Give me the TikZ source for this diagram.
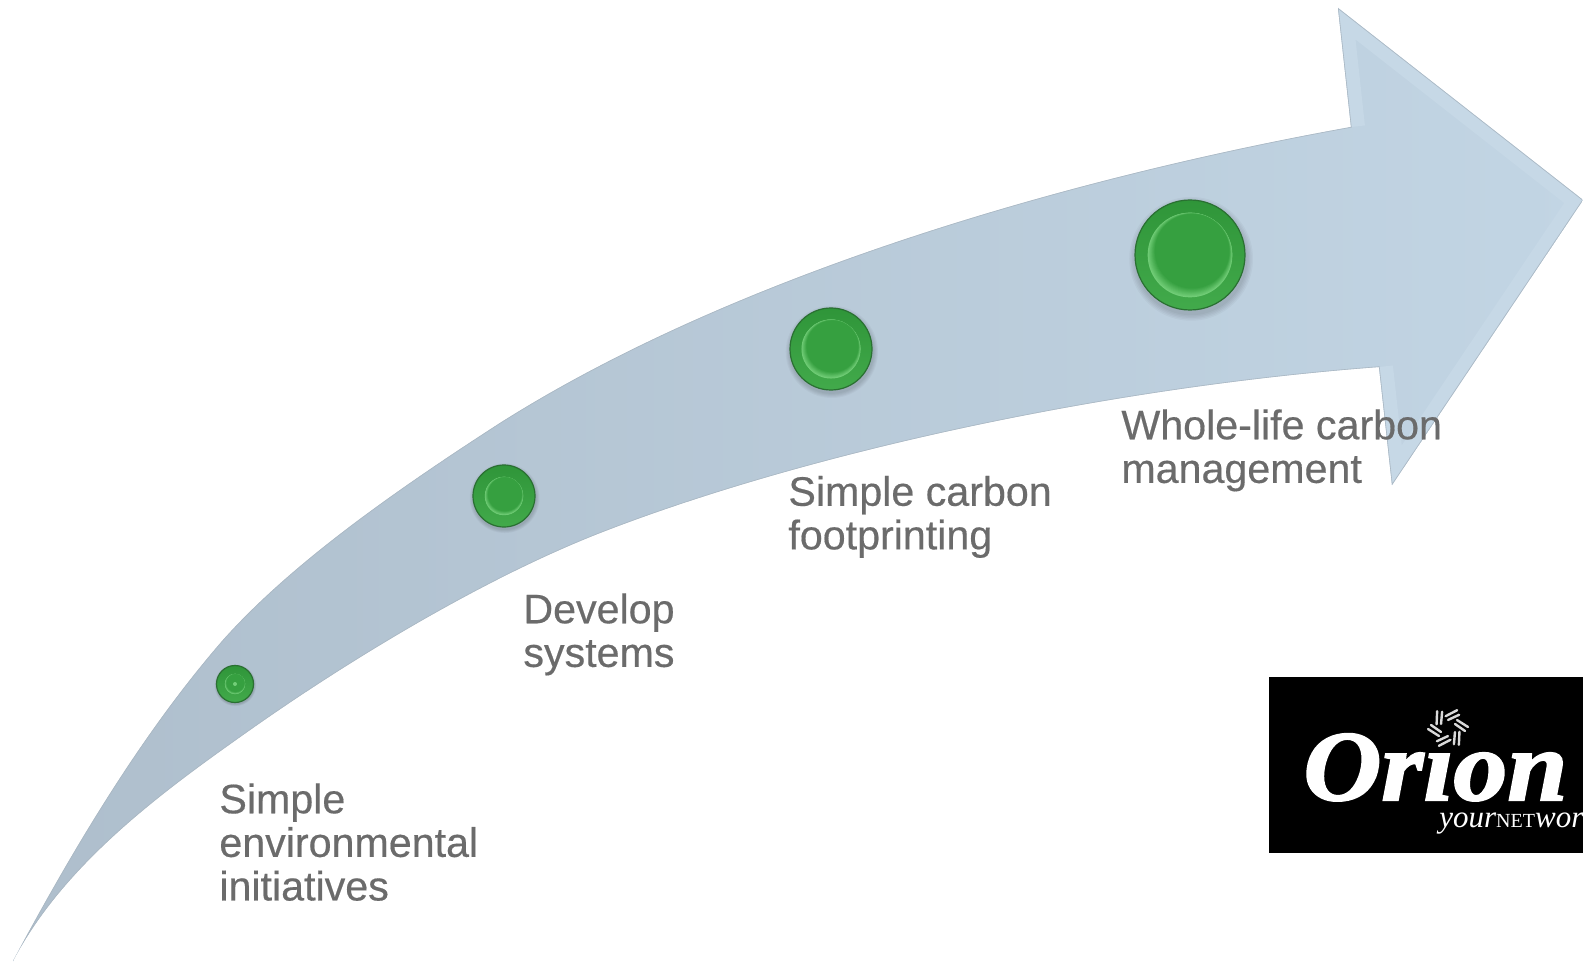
\documentclass[tikz,border=0pt]{standalone}
\usepackage{fontspec}
\setmainfont{Liberation Sans}
\newfontfamily\labelfont[FakeBold=0.4]{Liberation Sans}
\newfontfamily\logoserif{Liberation Serif}
\newfontfamily\orionfont[BoldItalicFeatures={FakeBold=2,FakeStretch=1.08}]{Liberation Serif}
\usetikzlibrary{shadings}
\definecolor{arrowtail}{HTML}{AEBECC}
\definecolor{arrowmid}{HTML}{BCCEDE}
\definecolor{arrowhead}{HTML}{C2D5E4}
\definecolor{arrowbevel}{HTML}{C6D8E6}
\definecolor{arrowline}{HTML}{ABB8C3}
\definecolor{labelgrey}{HTML}{6B6B6B}
\definecolor{dotedge}{HTML}{2A7032}
\definecolor{dottop}{HTML}{2F9539}
\definecolor{dotbottom}{HTML}{42AA4B}
\definecolor{dotbody}{HTML}{36A040}
\definecolor{dotlight}{HTML}{72CE78}
\tikzset{
  x=0.5pt,y=-0.5pt,
  steplabel/.style={font=\labelfont\fontsize{20.6pt}{21.8pt}\selectfont,text=labelgrey,align=left,anchor=north west,inner sep=0pt},
  logotext/.style={text=white,inner sep=0pt},
  petal/.style={draw=white!85!black,line width=1.2pt,line cap=round},
}
\newcommand{\arrowshape}{(13,961)
  .. controls (83,830) and (150,724) .. (223,640)
  .. controls (290,565) and (390,494) .. (500,423)
  .. controls (750,265) and (1100,172) .. (1351,127)
  -- (1338,8) -- (1583,200) -- (1392,485) -- (1379,367)
  .. controls (1100,388) and (800,455) .. (600,533)
  .. controls (480,580) and (345,663) .. (250,730)
  .. controls (165,790) and (65,862) .. (13,961) -- cycle}
\newcommand{\dotmark}[5]{%
  \foreach \k in {1,...,5}{\fill[black,opacity=0.03] (#2+#4*0.02,#3+#4*0.07) circle[radius=#4*(1+\k*0.025)];}
  \node[circle,draw=dotedge,line width=0.6pt,top color=dottop,bottom color=dotbottom,minimum size=#4pt,inner sep=0pt] (#1) at (#2,#3) {};
  \foreach \j in {0,...,10}{
    \pgfmathsetmacro{\mixv}{\j*10}
    \fill[dotbody!\mixv!dotlight] (#2+#4*#5*\j*0.005,#3-#4*#5*\j*0.009) circle[radius=#4*#5*(1-\j*0.012)];
  }
}
\begin{document}
\begin{tikzpicture}
\useasboundingbox (0,0) rectangle (1583,962);
\fill[white] (0,0) rectangle (1583,962);
\begin{scope}
  \clip \arrowshape;
  \shade[left color=arrowtail,middle color=arrowmid,right color=arrowhead] (0,0) rectangle (1583,962);
  \draw[arrowbevel,line width=14pt,line join=miter] (1351,127) -- (1338,8) -- (1583,200) -- (1392,485) -- (1379,367);
  \draw[arrowline,line width=0.6pt] \arrowshape;
\end{scope}
\dotmark{d1}{235}{684}{18.5}{0.55}
\fill[dotlight] (235,684) circle[radius=2];
\dotmark{d2}{504}{496}{31}{0.62}
\dotmark{d3}{831}{349}{41}{0.72}
\dotmark{d4}{1190}{255}{55}{0.77}
\node[steplabel] (a) at (219,783) {Simple\\environmental\\initiatives};
\node[steplabel] (b) at (523,593) {Develop\\systems};
\node[steplabel] (c) at (788,475.5) {Simple carbon\\footprinting};
\node[steplabel] (d) at (1121,409) {Whole-life carbon\\management};
\begin{scope}
  \clip (1269,677) rectangle (1583,853);
  \fill[black] (1269,677) rectangle (1583,853);
  \node[logotext,anchor=base west,font=\orionfont\bfseries\itshape\fontsize{50pt}{50pt}\selectfont] (orion) at (1303,800) {Orion};
  \fill[black] (1444,738) circle[radius=10];
  \node[logotext,anchor=base west,font=\logoserif\itshape\fontsize{15.5pt}{16pt}\selectfont] (net) at (1439,827) {your{\upshape\fontsize{10pt}{12pt}\selectfont NET}work};
  \foreach \a in {0,60,...,300}{
    \begin{scope}[shift={(1448,728)},rotate=\a]
      \draw[petal] (9,-8) -- (20,-1);
      \draw[petal] (7,-4) -- (17,3);
    \end{scope}
  }
\end{scope}
\end{tikzpicture}
\end{document}
